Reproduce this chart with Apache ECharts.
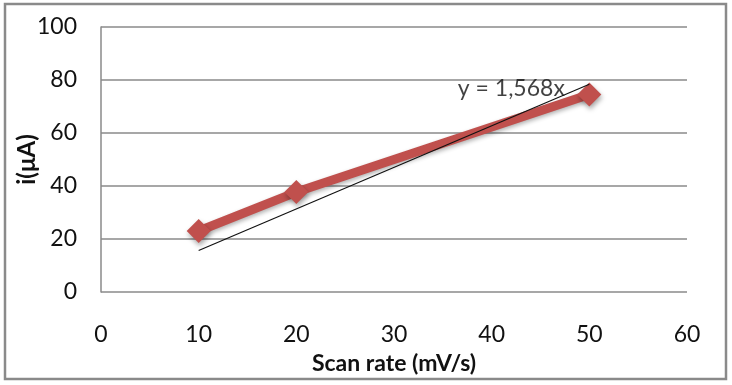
<!DOCTYPE html>
<html>
<head>
<meta charset="utf-8">
<script src="https://cdn.jsdelivr.net/npm/echarts@6/dist/echarts.min.js"></script>
<style>
html,body{margin:0;padding:0;background:#fff;}
#c{width:732px;height:385px;}
</style>
</head>
<body>
<div id="c"></div>
<script>
var scanRates = [10, 20, 50];
var currents = [23, 37.7, 74.5];
var trendX = [10, 50];
var trendY = [15.68, 78.4];
var trendLabel = 'y = 1,568x';
var xTicks = [0, 10, 20, 30, 40, 50, 60];
var yTicks = [0, 20, 40, 60, 80, 100];

var FONT = 'Lato';
var chart = echarts.init(document.getElementById('c'));
var mainData = scanRates.map(function (x, i) { return [x, currents[i]]; });
var trendData = trendX.map(function (x, i) { return [x, trendY[i]]; });

chart.setOption({
  animation: false,
  backgroundColor: '#fff',
  graphic: [{
    type: 'rect', shape: { x: 5, y: 4, width: 721, height: 375 },
    style: { fill: 'none', stroke: '#8a8a8a', lineWidth: 2.5 }, silent: true
  }],
  grid: { left: 101, right: 45, top: 27, bottom: 93, containLabel: false, outerBoundsMode: 'none' },
  xAxis: {
    type: 'value', min: 0, max: 60, interval: 10,
    axisLine: { show: false }, axisTick: { show: false },
    splitLine: { show: false },
    axisLabel: { margin: 31, fontFamily: FONT, fontSize: 23, color: '#111',
      formatter: function (v) { return xTicks.indexOf(v) >= 0 ? String(v) : ''; } },
    name: 'Scan rate (mV/s)', nameLocation: 'middle', nameGap: 60, nameMoveOverlap: false,
    nameTextStyle: { fontFamily: FONT, fontSize: 23, fontWeight: 'bold', color: '#111' }
  },
  yAxis: {
    type: 'value', min: 0, max: 100, interval: 20,
    axisLine: { show: true, lineStyle: { color: '#8a8a8a', width: 1.5 } },
    axisTick: { show: false },
    splitLine: { show: true, lineStyle: { color: '#8a8a8a', width: 1.5 } },
    axisLabel: { margin: 24, fontFamily: FONT, fontSize: 23, color: '#111',
      formatter: function (v) { return yTicks.indexOf(v) >= 0 ? String(v) : ''; } },
    name: 'i(μA)', nameLocation: 'middle', nameGap: 62, nameRotate: 90, nameMoveOverlap: false,
    nameTextStyle: { fontFamily: FONT, fontSize: 24, fontWeight: 'bold', color: '#111' }
  },
  series: [{
    type: 'line', data: mainData, z: 3,
    lineStyle: { color: '#C0504D', width: 9, shadowColor: 'rgba(0,0,0,0.3)', shadowBlur: 4, shadowOffsetX: 1, shadowOffsetY: 2 },
    symbol: 'diamond', symbolSize: 24,
    itemStyle: { color: '#C0504D', shadowColor: 'rgba(0,0,0,0.35)', shadowBlur: 5, shadowOffsetX: 1, shadowOffsetY: 3 }
  }, {
    type: 'line', data: trendData, z: 4,
    lineStyle: { color: '#111', width: 1.2 },
    symbol: 'none'
  }, {
    type: 'scatter', z: 5, silent: true,
    data: [trendData[trendData.length - 1]],
    symbolSize: 1, itemStyle: { color: 'rgba(0,0,0,0)' },
    label: {
      show: true, position: 'left', distance: 24, offset: [0, 4],
      formatter: trendLabel, fontFamily: FONT, fontSize: 23, color: '#111'
    }
  }]
});
</script>
</body>
</html>
